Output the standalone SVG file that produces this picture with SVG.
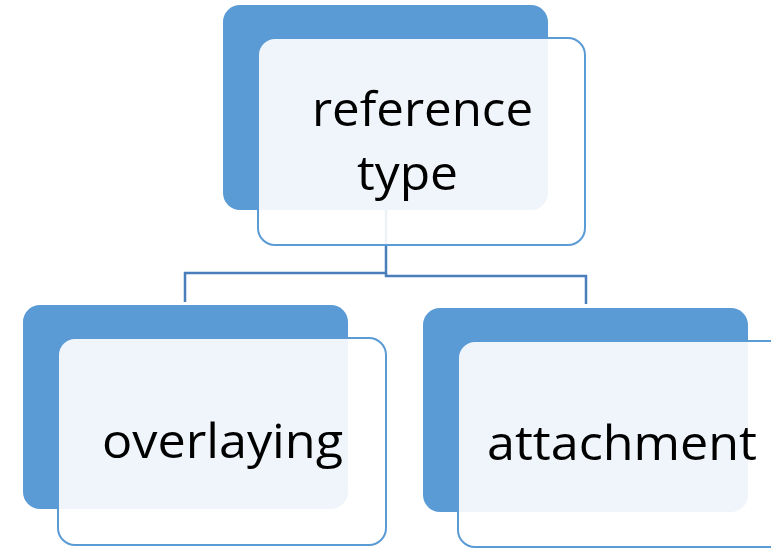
<svg xmlns="http://www.w3.org/2000/svg" width="771" height="548" viewBox="0 0 771 548">
<style>
.back{fill:#5B9BD5;}
.front{fill:#FFFFFF;fill-opacity:0.9;stroke:#5B9BD5;stroke-width:2;}
.lbl{font-family:"Open Sans","Noto Sans","Liberation Sans",sans-serif;font-size:48px;fill:#000000;}
.conn{fill:none;stroke:#4A7EBB;stroke-width:2.5;}
</style>
<rect width="771" height="548" fill="#FFFFFF"/>
<g id="connectors">
<polyline class="conn" points="386,210 386,273 185,273 185,302"/>
<polyline class="conn" points="386,273 386,276 586,276 586,304"/>
</g>
<g id="node-reference-type">
<rect class="back" x="223" y="5" width="325" height="205" rx="17"/>
<rect class="front" x="258" y="38" width="327" height="207" rx="17"/>
<text class="lbl" x="312" y="126" textLength="221" lengthAdjust="spacingAndGlyphs">reference</text>
<text class="lbl" x="357" y="190" textLength="101" lengthAdjust="spacingAndGlyphs">type</text>
</g>
<g id="node-overlaying">
<rect class="back" x="23" y="305" width="325" height="204" rx="17"/>
<rect class="front" x="58" y="338" width="328" height="207" rx="17"/>
<text class="lbl" x="102" y="458" textLength="241" lengthAdjust="spacingAndGlyphs">overlaying</text>
</g>
<g id="node-attachment">
<rect class="back" x="423" y="308" width="325" height="204" rx="17"/>
<rect class="front" x="458" y="341" width="328" height="206" rx="17"/>
<text class="lbl" x="487" y="460" textLength="270" lengthAdjust="spacingAndGlyphs">attachment</text>
</g>
</svg>
